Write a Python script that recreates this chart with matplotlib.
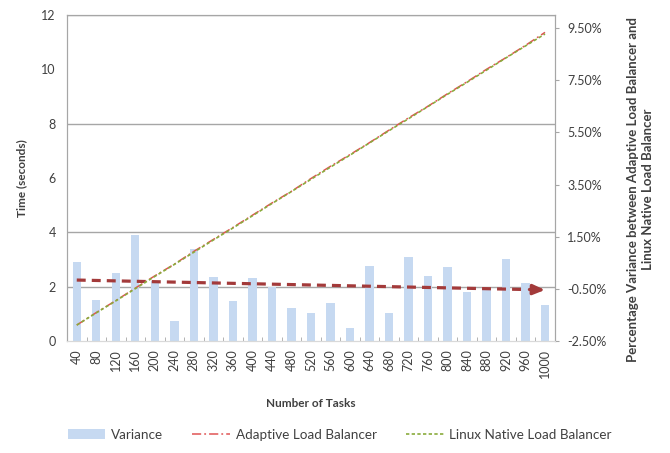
#Plot of task completion time for the adaptive and the native Linux load balancer,
#with the percentage variance between the two drawn as bars on a second axis.

import numpy as np
import matplotlib
matplotlib.use("Agg")
import matplotlib.pyplot as plt
from matplotlib.transforms import blended_transform_factory
from matplotlib.ticker import FixedLocator, FuncFormatter

plt.rcParams['font.family'] = ['Lato', 'DejaVu Sans']

tasks = [40, 80, 120, 160, 200, 240, 280, 320, 360, 400, 440, 480, 520,
         560, 600, 640, 680, 720, 760, 800, 840, 880, 920, 960, 1000]

#time in seconds
adaptive = [0.59, 1.05, 1.49, 1.95, 2.40, 2.83, 3.30, 3.74, 4.18, 4.63, 5.08, 5.51, 5.98,
            6.43, 6.86, 7.30, 7.76, 8.21, 8.64, 9.10, 9.54, 10.00, 10.43, 10.88, 11.36]
linux_native = [0.59, 1.04, 1.48, 1.93, 2.38, 2.82, 3.27, 3.72, 4.16, 4.61, 5.06, 5.50, 5.95,
                6.40, 6.84, 7.29, 7.74, 8.18, 8.63, 9.08, 9.52, 9.97, 10.42, 10.86, 11.30]

#percentage variance between the two balancers
variance = [0.54, -0.93, 0.10, 1.56, -0.21, -1.72, 1.02, -0.05, -0.97, -0.08, -0.44, -1.23, -1.42,
            -1.03, -2.00, 0.39, -1.43, 0.73, -0.01, 0.34, -0.62, -0.51, 0.64, -0.28, -1.12]

time_ticks = [0, 2, 4, 6, 8, 10, 12]
time_grid = [2, 4, 8, 12]
pct_ticks = [-2.5, -0.5, 1.5, 3.5, 5.5, 7.5, 9.5]

GREY = '#a6a6a6'
TEXT = '#404040'


def draw_chart():
    """Draws the bars, the trend of the variance and the two timing lines."""
    fig = plt.figure(figsize=(6.7, 4.53), dpi=100)
    ax_pct = fig.add_axes([0.100, 0.247, 0.728, 0.720])
    ax_time = ax_pct.twinx()
    ax_time.set_zorder(ax_pct.get_zorder() + 1)
    ax_time.patch.set_visible(False)

    x = np.arange(len(tasks))

    #percentage axis on the right
    ax_pct.set_ylim(-2.5, 10)
    ax_pct.set_xlim(-0.5, len(tasks) - 0.5)
    ax_pct.yaxis.tick_right()
    ax_pct.yaxis.set_label_position('right')
    ax_pct.set_yticks(pct_ticks)
    ax_pct.yaxis.set_major_formatter(FuncFormatter(lambda v, p: f"{v:.2f}%"))

    #time axis on the left
    ax_time.set_ylim(0, 12)
    ax_time.yaxis.tick_left()
    ax_time.yaxis.set_label_position('left')
    ax_time.set_yticks(time_ticks)

    #gridlines go behind the bars but follow the time scale
    trans = blended_transform_factory(ax_pct.transAxes, ax_time.transData)
    for g in time_grid:
        ax_pct.plot([0, 1], [g, g], transform=trans, color=GREY, lw=1, zorder=0.5)

    bars = ax_pct.bar(x, [v + 2.5 for v in variance], bottom=-2.5, width=0.43,
                      color='#c6d9f1', zorder=1, label='Variance')

    #linear trend of the variance with an arrow head at the end
    slope, icpt = np.polyfit(x, variance, 1)
    trend = slope * x + icpt
    tl, = ax_pct.plot(x[:-1], trend[:-1], color='#a33a3a', lw=2.3, zorder=2)
    tl.set_dashes((2.8, 1.9))
    ax_pct.annotate('', xy=(x[-1], trend[-1]), xytext=(x[-2] + 0.2, trend[-2]),
                    arrowprops=dict(arrowstyle='-|>,head_length=0.7,head_width=0.3',
                                    color='#a33a3a', lw=2.3, shrinkA=0, shrinkB=0),
                    zorder=2)

    la, = ax_time.plot(x, adaptive, color='#e05555', lw=1.1, label='Adaptive Load Balancer')
    la.set_dashes((6, 2, 1.2, 2))
    ln, = ax_time.plot(x, linux_native, color='#8aab3c', lw=1.2, label='Linux Native Load Balancer')
    ln.set_dashes((2, 1.4))

    #frame and ticks
    for a in (ax_pct, ax_time):
        for side in ('left', 'right', 'top'):
            a.spines[side].set_color(GREY)
        a.spines['bottom'].set_color('#d9d9d9')
    ax_time.tick_params(axis='y', length=0, labelsize=9, labelcolor=TEXT, pad=8)
    ax_pct.tick_params(axis='y', length=3, color=GREY, labelsize=9, labelcolor=TEXT, pad=6)

    ax_pct.set_xticks(x)
    ax_pct.set_xticklabels([str(t) for t in tasks], rotation=90, fontsize=9, color=TEXT)
    ax_pct.tick_params(axis='x', which='major', length=0, pad=6)
    ax_pct.xaxis.set_minor_locator(FixedLocator(np.arange(-0.5, len(tasks), 1)))
    ax_pct.tick_params(axis='x', which='minor', direction='in', length=3, color=GREY)
    ax_time.tick_params(axis='x', which='both', length=0, labelbottom=False)

    ax_pct.set_xlabel('Number of Tasks', fontsize=8.5, fontweight='bold', color=TEXT, labelpad=14)
    ax_time.set_ylabel('Time (seconds)', fontsize=8.5, fontweight='bold', color=TEXT, labelpad=10)
    ax_pct.set_ylabel('Percentage Variance between Adaptive Load Balancer and\nLinux Native Load Balancer',
                      fontsize=9.5, fontweight='bold', color=TEXT, linespacing=1.3)
    ax_pct.yaxis.set_label_coords(1.148, 0.466)

    handles = [bars, la, ln]
    labels = ['Variance', 'Adaptive Load Balancer', 'Linux Native Load Balancer']
    fig.legend(handles, labels, loc='lower center',
               bbox_to_anchor=(0.507, 0.0), ncol=3, frameon=False, fontsize=9.7,
               labelcolor=TEXT, handlelength=2.8, columnspacing=2.2, handletextpad=0.4)

    fig.savefig('out.png', dpi=100)


def main():
    draw_chart()


if __name__ == '__main__':
    main()
